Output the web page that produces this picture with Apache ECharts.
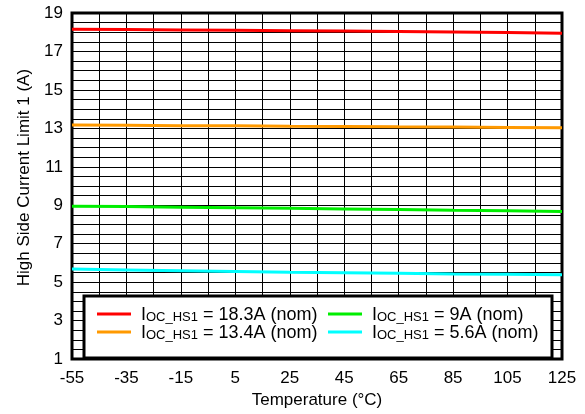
<!DOCTYPE html>
<html>
<head>
<meta charset="utf-8">
<script src="https://cdn.jsdelivr.net/npm/echarts@6/dist/echarts.min.js"></script>
<style>
  html, body { margin: 0; padding: 0; background: #fff; }
  #chart { width: 585px; height: 414px; }
</style>
</head>
<body>
<div id="chart"></div>
<script>
// temperature sweep (°C)
const temps = [-55, -35, -15, 5, 25, 45, 65, 85, 105, 125]

// high side current limit readings (A), one array per nominal setting
const nominals = ['18.3A', '13.4A', '9A', '5.6A']
const ilim183 = [18.15, 18.14, 18.12, 18.10, 18.08, 18.06, 18.04, 18.01, 17.98, 17.95]
const ilim134 = [13.17, 13.16, 13.14, 13.13, 13.11, 13.10, 13.08, 13.07, 13.05, 13.03]
const ilim90 = [8.95, 8.93, 8.90, 8.87, 8.84, 8.81, 8.78, 8.74, 8.71, 8.68]
const ilim56 = [5.68, 5.64, 5.60, 5.56, 5.52, 5.49, 5.46, 5.43, 5.41, 5.39]

// tick labels
const xLabels = [-55, -35, -15, 5, 25, 45, 65, 85, 105, 125]
const yLabels = [1, 3, 5, 7, 9, 11, 13, 15, 17, 19]

const colors = ['#ff0000', '#ff9900', '#00ee00', '#00ffff']
const values = [ilim183, ilim134, ilim90, ilim56]

const font = 'Liberation Sans, Arial, sans-serif'

const chart = echarts.init(document.getElementById('chart'))

const series = nominals.map((n, i) => ({
  name: n,
  type: 'line',
  symbol: 'none',
  z: 3,
  color: colors[i],
  lineStyle: { width: 3, color: colors[i] },
  data: temps.map((t, k) => [t, values[i][k]])
}))

// legend text: I with subscript OC_HS1
const legendText = {
  fontFamily: font,
  color: '#000',
  rich: {
    g: { width: 5, fontSize: 18, lineHeight: 20, verticalAlign: 'bottom' },
    a: { fontFamily: font, fontSize: 18, lineHeight: 20, verticalAlign: 'bottom', color: '#000' },
    b: { fontFamily: font, fontSize: 13, lineHeight: 12, verticalAlign: 'bottom', color: '#000' }
  }
}
const legendFmt = name => `{g| }{a|I}{b|OC_HS1}{a| = ${name} (nom)}`

const legendBase = {
  orient: 'vertical',
  icon: 'rect',
  itemWidth: 34,
  itemHeight: 3,
  itemGap: 0,
  padding: 0,
  z: 10,
  selectedMode: false,
  formatter: legendFmt,
  textStyle: legendText
}

const labelStyle = { fontFamily: font, fontSize: 17, color: '#000' }
const gridLine = { show: true, lineStyle: { color: '#000', width: 1 } }

chart.setOption({
  backgroundColor: '#fff',
  animation: false,
  grid: {
    left: 72,
    right: 23,
    top: 13,
    bottom: 47,
    show: true,
    borderColor: '#000',
    borderWidth: 3,
    backgroundColor: '#fff'
  },
  xAxis: [{
    type: 'value',
    min: -55,
    max: 125,
    interval: 5,
    name: 'Temperature (°C)',
    nameLocation: 'middle',
    nameGap: 29,
    nameTextStyle: labelStyle,
    axisLine: { show: false },
    axisTick: { show: false },
    axisLabel: Object.assign({
      margin: 11,
      formatter: v => (xLabels.indexOf(v) >= 0 ? String(v) : '')
    }, labelStyle),
    splitLine: { show: false }
  }, {
    // helper axis: vertical grid every 10 °C across the -55..125 span
    type: 'value',
    position: 'top',
    min: 0,
    max: 180,
    interval: 10,
    axisLine: { show: false },
    axisTick: { show: false },
    axisLabel: { show: false },
    splitLine: gridLine
  }],
  yAxis: {
    type: 'value',
    min: 1,
    max: 19,
    interval: 0.5,
    name: 'High Side Current Limit 1 (A)',
    nameLocation: 'middle',
    nameGap: 38,
    nameTextStyle: Object.assign({ padding: [0, 0, 0, 17] }, labelStyle),
    axisLine: { show: false },
    axisTick: { show: false },
    axisLabel: Object.assign({
      margin: 9,
      formatter: v => (yLabels.indexOf(v) >= 0 ? String(v) : '')
    }, labelStyle),
    splitLine: gridLine
  },
  graphic: [{
    type: 'rect',
    z: 9,
    shape: { x: 84, y: 296, width: 468, height: 62 },
    style: { fill: '#fff', stroke: '#000', lineWidth: 3 }
  }],
  legend: [
    Object.assign({ left: 97, top: 306, data: [nominals[0], nominals[1]] }, legendBase),
    Object.assign({ left: 328, top: 306, data: [nominals[2], nominals[3]] }, legendBase)
  ],
  series: series
})
</script>
</body>
</html>
